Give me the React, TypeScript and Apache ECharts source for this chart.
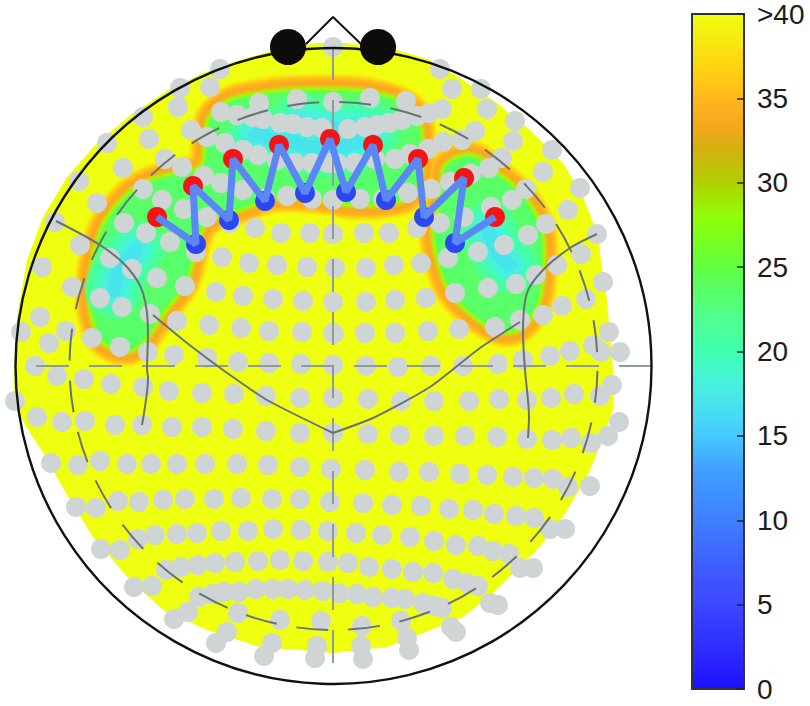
import React, { useEffect, useRef } from "react";
import * as echarts from "echarts";

const scalpOutline = [[333,43],[347,43],[397,50],[430,60],[463,80],[497,103],[530,130],[563,163],[583,197],[597,233],[607,300],[610,333],[613,370],[613,410],[597,453],[587,477],[563,517],[537,550],[493,593],[463,617],[423,633],[387,647],[333,653],[260,647],[207,630],[163,610],[130,580],[93,537],[70,500],[43,453],[25,425],[14,400],[14,367],[17,317],[27,260],[43,217],[67,177],[97,143],[133,113],[173,87],[217,67],[267,52],[317,43]];

const bandFrontCentral = [[337,92],[366,94],[395,101],[412,112],[418,127],[420,150],[419,172],[412,190],[403,198],[378,202],[347,202],[333,199],[305,196],[272,196],[243,206],[207,219],[195,240],[189,265],[183,283],[162,311],[142,340],[126,349],[106,342],[98,329],[92,301],[95,262],[105,227],[128,197],[150,183],[176,176],[203,168],[208,140],[212,118],[232,102],[265,95],[300,92]];
const bandRight = [[448,166],[472,158],[497,176],[522,198],[539,230],[541,266],[536,302],[520,326],[500,329],[471,311],[450,287],[439,255],[436,230],[441,208],[444,183]];

const ridges = [
  [[136,250],[120,272],[114,290]],
  [[488,230],[500,255],[510,265]],
  [[255,135],[285,140],[320,148],[350,145],[372,130]],
  [[300,122],[330,128],[360,128]],
];

const ridgeLevels = [[22,58],[20.5,46],[19,34],[18,24],[17,14]];

const bandRamp = ["#62FF48","#70FF38","#82FF24","#98FC14","#B0EE10","#C8DC12","#DCC816","#ECB81A","#F6AE1E","#FBA820","#FDA820","#FEAC20","#FEB21E","#FFB81C","#FFC018","#FFCA16","#FED614","#FBE212","#F7EE10","#F3F710","#EEFF10"];

const colorStops: [number,string][] = [
  [0,"#1C10FF"],[2,"#2C28FF"],[5,"#3C48FF"],[7,"#3F5AFF"],[10,"#3F7FFF"],[13,"#40A0FF"],[15,"#46C8FF"],[16,"#48D8F8"],[18,"#48F0E0"],[20,"#40FFB0"],[22,"#50FF90"],[25,"#60FF40"],[28,"#90FF08"],[30,"#B0D000"],[32,"#D4B010"],[33.5,"#F8A81F"],[35,"#FFB81C"],[37,"#FFD510"],[40,"#EEFF10"],
];

const sensors = [
[333,47],[220,69],[210,87],[180,88],[178,107],[143,117],[221,112],[237,115],[259,103],[297,99],[333,102],[253,117],[263,119],[280,123],[293,124],[307,127],[322,128],[348,129],[365,127],[377,125],[389,123],[402,120],[417,116],[429,113],[442,109],
[191,130],[207,137],[149,139],[107,143],[123,168],[79,181],[165,159],[182,167],[225,143],[243,150],[258,155],[277,160],[295,163],[312,163],[328,163],[204,176],[221,183],[243,190],[265,198],[287,196],[312,199],[333,200],
[143,189],[162,200],[184,209],[207,217],[230,223],[255,228],[281,233],[310,233],[333,234],[97,203],[124,223],[146,233],[170,242],[196,252],[80,245],[55,222],[42,267],[110,258],[132,269],[157,278],[185,286],[222,257],[249,263],[277,265],[307,267],[335,268],
[72,287],[100,298],[122,307],[150,314],[177,321],[216,292],[243,296],[273,299],[303,301],[333,302],[40,317],[21,332],[49,343],[66,331],[92,338],[120,347],[148,352],[174,355],[209,325],[241,328],[269,331],[302,332],[333,333],
[35,366],[207,358],[238,362],[269,363],[301,364],[333,365],
[57,376],[84,379],[111,384],[143,387],[169,391],[202,393],[234,394],[266,396],[300,398],[333,398],[15,401],[37,417],[62,422],[85,421],[115,425],[142,425],[172,427],[202,427],[233,429],[266,431],[300,433],[333,433],
[51,463],[78,465],[100,461],[127,464],[151,464],[177,464],[205,464],[237,464],[268,465],[300,467],[331,469],[76,507],[96,508],[118,501],[139,502],[163,500],[185,499],[214,499],[241,498],[272,499],[300,499],[330,502],
[101,549],[120,550],[138,539],[155,535],[177,534],[197,533],[221,531],[248,531],[273,529],[301,530],[328,531],[134,587],[152,586],[166,570],[181,567],[198,565],[215,563],[235,562],[258,561],[280,560],[303,561],[328,562],
[174,619],[188,612],[199,597],[213,594],[224,592],[239,592],[256,589],[273,589],[288,589],[305,590],[323,591],[339,593],[216,643],[227,632],[238,613],[280,620],[321,621],[272,643],[264,656],[317,646],[315,658],
[366,366],[398,367],[431,366],[463,366],[498,364],[523,360],[550,356],[570,351],[601,352],[593,345],[620,352],[609,332],
[368,399],[401,401],[434,401],[469,401],[499,399],[527,400],[551,398],[574,394],[600,396],[612,385],[368,434],[400,435],[434,436],[465,436],[497,437],[527,439],[552,440],[571,438],[591,443],[608,436],[619,422],
[365,470],[399,472],[429,472],[460,474],[487,475],[513,477],[534,478],[553,479],[568,487],[590,486],[363,503],[392,505],[421,506],[449,509],[473,510],[494,514],[516,516],[534,518],[550,529],[565,529],
[356,533],[382,535],[410,537],[434,541],[456,545],[478,546],[493,551],[509,554],[520,568],[533,568],[348,563],[369,567],[392,569],[413,572],[433,573],[453,579],[467,583],[478,586],[490,603],[498,605],
[357,594],[373,597],[392,598],[405,599],[423,603],[434,606],[442,608],[362,626],[401,621],[407,638],[409,650],[361,646],[363,659],[451,627],[456,632],
[440,69],[452,89],[481,89],[487,109],[515,121],[513,141],[475,131],[552,150],[543,172],[580,188],[568,210],[597,234],[603,282],[581,254],[557,265],[586,299],[562,306],[543,315],[520,320],[495,327],[459,329],[428,331],[395,333],[365,333],[334,334],
[455,293],[488,288],[516,284],[536,275],[426,298],[395,300],[366,302],[421,263],[394,265],[366,268],[448,258],[478,252],[504,245],[528,235],[546,224],[417,228],[389,233],[364,233],[440,223],[464,217],[491,207],[512,200],[526,189],[408,193],[431,189],[450,182],[471,174],[489,168],[502,158],[462,140],[443,142],[428,149],[410,154],[395,159],[375,159],[355,163],[337,163],[360,199],[383,199],[370,98],[406,101],
];

const redElectrodes = [[157,217],[193,186],[233,159],[279,145],[330,139],[373,145],[418,159],[464,178],[495,217]];
const blueElectrodes = [[196,244],[229,220],[265,201],[305,193],[346,192],[386,200],[424,217],[455,243]];

const leftCurve = [[56,221],[100,245],[127,267],[143,293],[148,333],[147,370],[148,377],[142,425]];
const rightCurve = [[597,234],[570,248],[543,270],[527,293],[523,333],[525,370],[529,417],[528,438]];
const frontCurveLeft = [[153,315],[187,343],[223,370],[267,400],[333,433]];
const frontCurveRight = [[333,433],[373,418],[430,387],[480,348],[520,322]];
const noseLine = [[306,44],[333,17],[361,44]];
const verticalCross = [[333,47],[333,683]];
const horizontalCross = [[652,366],[16,366]];
const earCenters = [[288,47],[378,47]];

const headCenter = [333.5,366];
const headRadius = 318;
const innerRadius = 264;
const colorbarTicks = 5;

function valueColor(v:number){
  for(let i=1;i<colorStops.length;i++){
    const [a,ca]=colorStops[i-1],[b,cb]=colorStops[i];
    if(v<=b){
      const t=(v-a)/(b-a);
      const pa=[1,3,5].map(k=>parseInt(ca.slice(k,k+2),16));
      const pb=[1,3,5].map(k=>parseInt(cb.slice(k,k+2),16));
      return `rgb(${pa.map((x,k)=>Math.round(x+(pb[k]-x)*t)).join(",")})`;
    }
  }
  return colorStops[colorStops.length-1][1];
}

const lineSeries=(data:number[][],color:string,width:number,z:number,extra:any={},lsExtra:any={})=>({
  type:"line",data,symbol:"none",silent:true,z,clip:false,
  lineStyle:{color,width,...lsExtra},...extra,
});

export default function App(){
  const ref=useRef<HTMLDivElement>(null);
  useEffect(()=>{
    document.body.style.margin="0";
    const chart=echarts.init(ref.current!,undefined,{renderer:"svg"});
    const yellow=valueColor(40);
    chart.setOption({
      animation:false,
      backgroundColor:"#fff",
      grid:[
        {left:0,top:0,width:810,height:706},
        {left:692,top:13,width:52,height:676},
      ],
      xAxis:[
        {type:"value",min:0,max:810,show:false,gridIndex:0},
        {type:"value",min:0,max:1,show:false,gridIndex:1},
      ],
      yAxis:[
        {type:"value",min:0,max:706,inverse:true,show:false,gridIndex:0},
        {type:"value",min:0,max:40,interval:colorbarTicks,gridIndex:1,position:"right",z:10,
          axisLine:{show:true,onZero:false,lineStyle:{color:"#333",width:2}},
          axisTick:{show:true,inside:true,length:7,lineStyle:{color:"#222",width:1.5}},
          splitLine:{show:false},
          axisLabel:{show:true,showMaxLabel:true,showMinLabel:true,margin:13,color:"#1c1c1c",fontSize:28,fontFamily:"Liberation Sans",padding:[3,0,0,0],
            formatter:(v:number)=>v===40?">40":String(v)},
        },
      ],
      series:[
        {type:"custom",coordinateSystem:"cartesian2d",xAxisIndex:0,yAxisIndex:0,data:[[0,0]],z:1,silent:true,clip:false,
          renderItem:(_:any,api:any)=>{
            const px=(pts:number[][])=>pts.map(p=>api.coord(p));
            const children:any[]=[{type:"polygon",shape:{points:px(scalpOutline)},style:{fill:yellow}}];
            const regions=[bandFrontCentral,bandRight];
            for(let d=bandRamp.length-1;d>=0;d--){
              for(const r of regions){
                children.push({type:"polygon",shape:{points:px(r),smooth:0.35},
                  style:{fill:"none",stroke:bandRamp[d],lineWidth:Math.max(1,2*d),lineJoin:"round"}});
              }
            }
            for(const r of regions){
              children.push({type:"polygon",shape:{points:px(r),smooth:0.35},style:{fill:valueColor(23.5)}});
            }
            for(const [v,w] of ridgeLevels){
              for(const rd of ridges){
                children.push({type:"polyline",shape:{points:px(rd),smooth:0.4},
                  style:{fill:"none",stroke:valueColor(v),lineWidth:w,lineCap:"round",lineJoin:"round"}});
              }
            }
            return {type:"group",children};
          }},
        {type:"scatter",data:sensors,symbolSize:20,itemStyle:{color:"#CFD5D5",opacity:1},silent:true,z:2,clip:false},
        {type:"custom",coordinateSystem:"cartesian2d",xAxisIndex:0,yAxisIndex:0,data:[[0,0]],z:3,silent:true,clip:false,
          renderItem:(_:any,api:any)=>{
            const c=api.coord(headCenter);
            return {type:"circle",shape:{cx:c[0],cy:c[1],r:api.size([innerRadius,0])[0]},
              style:{fill:"none",stroke:"#6B7276",lineWidth:2,lineDash:[32,19.84],lineDashOffset:-5}};
          }},
        lineSeries(verticalCross,"#8F9A9E",2,3,{},{type:[33,20]}),
        lineSeries(horizontalCross,"#8F9A9E",2,3,{},{type:[33,20]}),
        lineSeries(leftCurve,"#6B7276",2,4,{smooth:0.3}),
        lineSeries(rightCurve,"#6B7276",2,4,{smooth:0.3}),
        lineSeries(frontCurveLeft,"#6B7276",2,4,{smooth:0.2}),
        lineSeries(frontCurveRight,"#6B7276",2,4,{smooth:0.2}),
        {type:"custom",coordinateSystem:"cartesian2d",xAxisIndex:0,yAxisIndex:0,data:[[0,0]],z:5,silent:true,clip:false,
          renderItem:(_:any,api:any)=>{
            const c=api.coord(headCenter);
            return {type:"circle",shape:{cx:c[0],cy:c[1],r:api.size([headRadius,0])[0]},
              style:{fill:"none",stroke:"#111",lineWidth:2.4}};
          }},
        lineSeries(noseLine,"#111",2,5),
        {type:"scatter",data:earCenters,symbolSize:36,itemStyle:{color:"#0c0c0c",opacity:1},silent:true,z:6,clip:false},
        {type:"scatter",data:redElectrodes,symbolSize:20,itemStyle:{color:"#F51313",opacity:1},silent:true,z:7,clip:false},
        {type:"scatter",data:blueElectrodes,symbolSize:20,itemStyle:{color:"#2B48F0",opacity:1},silent:true,z:7,clip:false},
        lineSeries(redElectrodes.flatMap((p,i)=>i<blueElectrodes.length?[p,blueElectrodes[i]]:[p]),"#5B86F5",7,8),
        {type:"custom",coordinateSystem:"cartesian2d",xAxisIndex:1,yAxisIndex:1,data:[[0,0]],z:1,silent:true,clip:false,
          renderItem:(_:any,api:any)=>{
            const a=api.coord([0,40]),b=api.coord([1,0]);
            return {type:"rect",shape:{x:a[0],y:a[1],width:b[0]-a[0],height:b[1]-a[1]},
              style:{stroke:"#333",lineWidth:2,
                fill:new echarts.graphic.LinearGradient(0,1,0,0,colorStops.map(([v,color])=>({offset:v/40,color})))}};
          }},
      ],
    });
    return ()=>chart.dispose();
  },[]);
  return <div ref={ref} style={{width:810,height:706}}/>;
}
